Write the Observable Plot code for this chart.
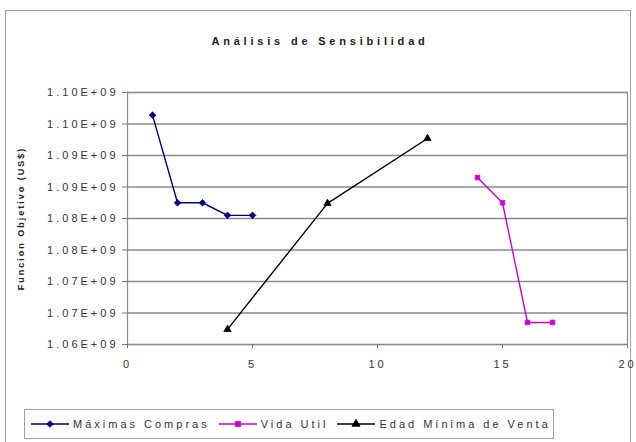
<!DOCTYPE html>
<html><head><meta charset="utf-8">
<script src="https://cdn.jsdelivr.net/npm/d3@7"></script>
<script src="https://cdn.jsdelivr.net/npm/@observablehq/plot@0.6"></script>
<style>
body{margin:0;background:#fff;}
#wrap{position:relative;width:636px;height:442px;overflow:hidden;font-family:"Liberation Sans",Arial,sans-serif;background:#fff;}
#frame{position:absolute;left:5px;top:10px;width:626px;height:470px;border:1px solid #a0a0a0;box-sizing:border-box;}
#title{position:absolute;left:0;width:640px;top:35px;text-align:center;font-weight:bold;font-size:11px;letter-spacing:3.8px;color:#222;}
#chart{position:absolute;left:0;top:0;}
#legend{position:absolute;left:24px;top:409px;width:530px;height:30px;border:1px solid #a0a0a0;box-sizing:border-box;display:flex;align-items:center;padding-left:6px;font-size:11px;letter-spacing:3px;color:#333;white-space:nowrap;}
.item{display:flex;align-items:center;margin-right:9px;flex-shrink:0;}
.item svg{margin-right:4px;flex-shrink:0;}
</style></head>
<body><div id="wrap"><div id="frame"></div><div id="title">Análisis de Sensibilidad</div><div id="chart"></div><div id="legend"></div></div>
<script>
// Data
const seriesNames = ["Máximas Compras", "Vida Util", "Edad Mínima de Venta"];
const seriesColors = ["#000080", "#d000d0", "#000000"];
const seriesSymbols = ["diamond2", "square", "triangle"];
const comprasX = [1, 2, 3, 4, 5];
const comprasY = [1.0964e9, 1.0825e9, 1.0825e9, 1.0805e9, 1.0805e9];
const vidaX = [14, 15, 16, 17];
const vidaY = [1.0865e9, 1.0825e9, 1.0635e9, 1.0635e9];
const edadX = [4, 8, 12];
const edadY = [1.0624e9, 1.0824e9, 1.0927e9];
const xTicks = [0, 5, 10, 15, 20];
const yTicks = [1.060e9, 1.065e9, 1.070e9, 1.075e9, 1.080e9, 1.085e9, 1.090e9, 1.095e9, 1.100e9];
const yTickLabels = ["1.06E+09", "1.07E+09", "1.07E+09", "1.08E+09", "1.08E+09", "1.09E+09", "1.09E+09", "1.10E+09", "1.10E+09"];
const yTitle = "Funcion Objetivo (US$)";

const series = [
  {name: seriesNames[0], xs: comprasX, ys: comprasY},
  {name: seriesNames[1], xs: vidaX, ys: vidaY},
  {name: seriesNames[2], xs: edadX, ys: edadY}
].map((s, k) => ({...s, color: seriesColors[k], symbol: seriesSymbols[k],
  data: s.xs.map((x, i) => ({x, y: s.ys[i]}))}));

const dotR = {diamond2: 3, square: 2.6, triangle: 2.7};

const marks = [
  Plot.gridY(yTicks, {stroke: "#8a8a8a", strokeOpacity: 1, strokeWidth: 1.5}),
  Plot.frame({stroke: "#8a8a8a", strokeWidth: 1.2}),
  Plot.axisY(yTicks, {label: null, tickFormat: (d) => yTickLabels[yTicks.indexOf(d)], tickSize: 5, tickPadding: 4, stroke: "#777", fill: "#333", fontSize: 11}),
  Plot.axisX(xTicks, {label: null, tickSize: 4, tickPadding: 12, stroke: "#777", fill: "#333", fontSize: 11}),
  Plot.text([yTitle], {frameAnchor: "left", dx: -106, rotate: -90, text: d => d, fontSize: 9, fontWeight: "bold", fill: "#222", textAnchor: "middle"})
];
for (const s of series) {
  marks.push(Plot.line(s.data, {x: "x", y: "y", stroke: s.color, strokeWidth: 1.4}));
  marks.push(Plot.dot(s.data, {x: "x", y: "y", symbol: s.symbol, fill: s.color, stroke: s.color, strokeWidth: 0.8, r: dotR[s.symbol]}));
}

const chart = Plot.plot({
  width: 636, height: 442,
  marginLeft: 127, marginRight: 9, marginTop: 92, marginBottom: 98,
  x: {domain: [0, 20], axis: null},
  y: {domain: [1.06e9, 1.10e9], axis: null},
  style: {background: "transparent", fontFamily: "Liberation Sans, Arial, sans-serif", letterSpacing: "3px", overflow: "visible"},
  marks
});
document.getElementById("chart").appendChild(chart);
chart.querySelectorAll("text").forEach(t => { if (t.textContent === yTitle) t.style.letterSpacing = "2px"; });

// Legend
const legend = d3.select("#legend");
for (const s of series) {
  const it = legend.append("div").attr("class", "item");
  const sv = it.append("svg").attr("width", 38).attr("height", 12);
  sv.append("line").attr("x1", 0).attr("x2", 38).attr("y1", 6).attr("y2", 6).attr("stroke", s.color).attr("stroke-width", 1.4);
  const sym = {diamond2: d3.symbolDiamond2, square: d3.symbolSquare, triangle: d3.symbolTriangle}[s.symbol];
  sv.append("path").attr("transform", "translate(19,6)").attr("d", d3.symbol(sym, s.symbol === "square" ? 26 : 28)()).attr("fill", s.color).attr("stroke", s.color).attr("stroke-width", 0.8);
  it.append("span").text(s.name);
}
</script></body></html>
